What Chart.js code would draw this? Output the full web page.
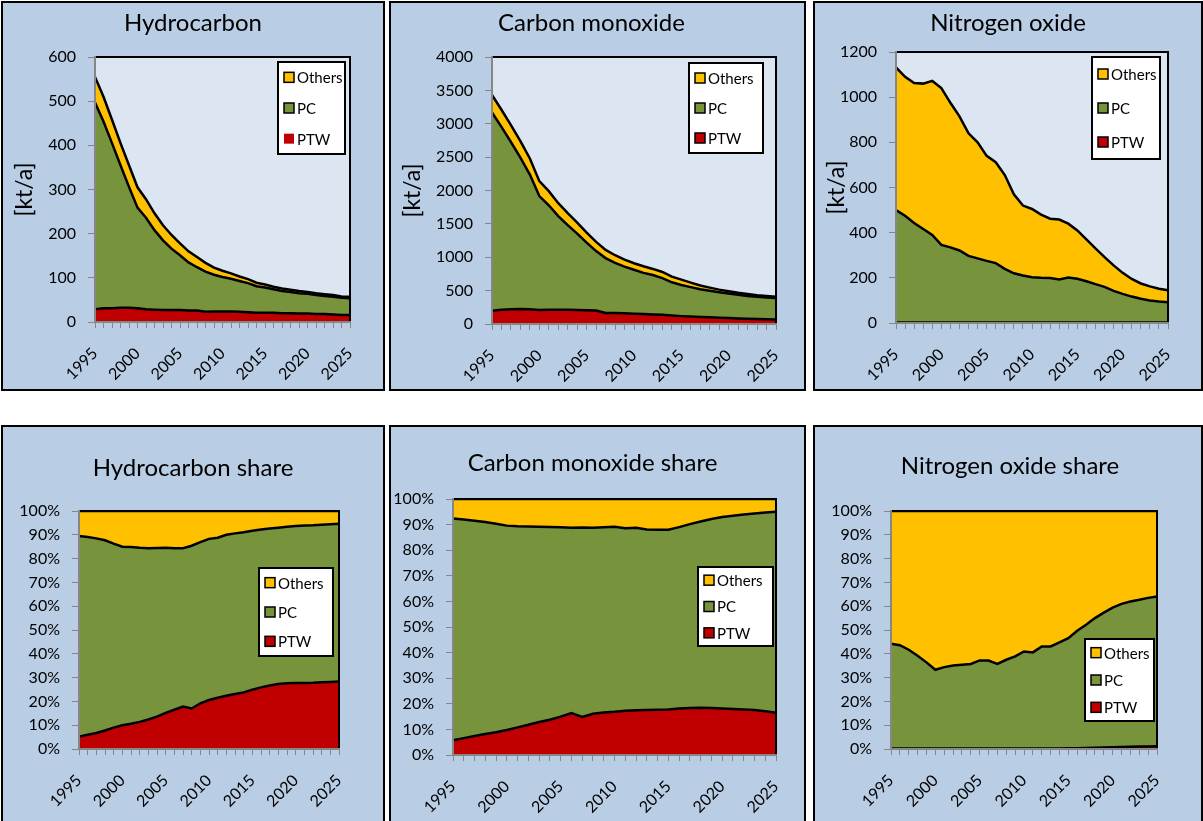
<!DOCTYPE html>
<html>
<head>
<meta charset="utf-8">
<title>Emissions by vehicle category</title>
<script src="https://cdn.jsdelivr.net/npm/chart.js@4.4.1/dist/chart.umd.min.js"></script>
<style>
  html, body { margin: 0; padding: 0; background: #fff; }
  body { width: 1203px; height: 821px; overflow: hidden; position: relative; font-family: Lato, "Open Sans", sans-serif; }
  .panel { position: absolute; box-sizing: border-box; border: 2px solid #000; background: #b9cde5; }
  .panel canvas { position: absolute; left: -2px; top: -2px; }
  .title { position: absolute; text-align: center; font-size: 24px; line-height: 24px; color: #000; white-space: nowrap; }
</style>
</head>
<body>
<script>
// years on the x axis
const years = [1995, 1996, 1997, 1998, 1999, 2000, 2001, 2002, 2003, 2004, 2005, 2006, 2007, 2008, 2009, 2010,
  2011, 2012, 2013, 2014, 2015, 2016, 2017, 2018, 2019, 2020, 2021, 2022, 2023, 2024, 2025];

// absolute emissions [kt/a]
const hcPtw = [29, 31, 31, 32, 32, 31, 29, 28, 27, 27, 27, 26, 26, 23, 24, 24, 24, 23, 22, 21, 21, 21, 20, 20, 19, 19, 18, 18, 17, 16, 16];
const hcPc = [468, 423, 374, 323, 274, 228, 207, 180, 158, 139, 124, 109, 98, 91, 83, 78, 74, 70, 66, 60, 57, 53, 50, 48, 46, 45, 43, 41, 40, 39, 38];
const hcOthers = [58, 56, 53, 50, 49, 46, 42, 38, 34, 31, 27, 25, 23, 20, 16, 14, 12, 10, 9, 8, 7, 6, 6, 5, 5, 4, 4, 4, 4, 3, 3];

const coPtw = [199, 212, 221, 225, 221, 210, 215, 214, 214, 210, 206, 202, 165, 166, 160, 154, 150, 144, 137, 126, 118, 113, 106, 101, 95, 89, 84, 80, 76, 72, 68];
const coPc = [2970, 2741, 2506, 2268, 2018, 1707, 1564, 1402, 1267, 1144, 1013, 890, 822, 749, 699, 658, 616, 589, 550, 499, 467, 439, 415, 396, 380, 367, 353, 341, 331, 326, 322];
const coOthers = [261, 257, 253, 247, 241, 223, 211, 194, 179, 166, 151, 138, 123, 115, 106, 98, 99, 92, 93, 85, 80, 68, 57, 48, 40, 34, 30, 27, 25, 22, 20];

const noxPtw = [2, 2, 2, 2, 2, 2, 2, 2, 2, 2, 2, 2, 2, 2, 2, 2, 2, 2, 2, 2, 2, 2, 2, 2, 2, 2, 2, 2, 2, 2, 2];
const noxPc = [498, 473, 441, 414, 388, 344, 333, 319, 295, 284, 273, 263, 238, 218, 208, 201, 198, 197, 191, 199, 194, 183, 170, 158, 140, 127, 115, 105, 98, 93, 90];
const noxOthers = [632, 615, 620, 644, 682, 694, 640, 594, 543, 514, 465, 447, 415, 350, 310, 302, 280, 263, 265, 239, 214, 185, 158, 132, 113, 93, 78, 68, 62, 57, 53];

// shares [%]
const hcSharePtw = [5.2, 6.0, 6.7, 7.8, 9.0, 10.0, 10.6, 11.4, 12.4, 13.6, 15.2, 16.5, 17.8, 17.0, 19.2, 20.6, 21.5, 22.4, 23.1, 23.8, 24.9, 25.9, 26.7, 27.3, 27.6, 27.7, 27.7, 27.8, 28.0, 28.2, 28.4];
const hcSharePc = [84.3, 83.1, 81.8, 79.9, 77.3, 75.0, 74.3, 73.2, 72.0, 70.9, 69.4, 67.9, 66.6, 68.4, 67.7, 67.7, 67.3, 67.6, 67.5, 67.3, 66.8, 66.3, 65.9, 65.7, 65.8, 66.0, 66.2, 66.2, 66.2, 66.2, 66.2];
const hcShareOthers = [10.5, 10.9, 11.5, 12.3, 13.7, 15.0, 15.1, 15.4, 15.6, 15.5, 15.4, 15.6, 15.6, 14.6, 13.1, 11.7, 11.2, 10.0, 9.4, 8.9, 8.3, 7.8, 7.4, 7.0, 6.6, 6.3, 6.1, 6.0, 5.8, 5.6, 5.4];

const coSharePtw = [5.8, 6.6, 7.4, 8.2, 8.9, 9.8, 10.8, 11.8, 12.9, 13.8, 15.0, 16.4, 14.9, 16.1, 16.6, 16.9, 17.3, 17.5, 17.6, 17.7, 17.8, 18.2, 18.4, 18.5, 18.4, 18.2, 18.0, 17.8, 17.6, 17.1, 16.5];
const coSharePc = [86.6, 85.4, 84.1, 82.8, 81.4, 79.8, 78.6, 77.5, 76.3, 75.3, 74.0, 72.4, 74.0, 72.7, 72.4, 72.3, 71.3, 71.3, 70.5, 70.3, 70.2, 70.8, 71.8, 72.7, 73.8, 74.8, 75.5, 76.1, 76.7, 77.6, 78.5];
const coShareOthers = [7.6, 8.0, 8.5, 9.0, 9.7, 10.4, 10.6, 10.7, 10.8, 10.9, 11.0, 11.2, 11.1, 11.2, 11.0, 10.8, 11.4, 11.2, 11.9, 12.0, 12.0, 11.0, 9.8, 8.8, 7.8, 7.0, 6.5, 6.1, 5.7, 5.3, 5.0];

const noxSharePtw = [0.2, 0.2, 0.2, 0.2, 0.2, 0.2, 0.2, 0.2, 0.2, 0.2, 0.2, 0.2, 0.2, 0.2, 0.2, 0.2, 0.2, 0.2, 0.2, 0.2, 0.3, 0.3, 0.4, 0.5, 0.6, 0.7, 0.8, 0.9, 1.0, 1.1, 1.2];
const noxSharePc = [44.0, 43.4, 41.5, 39.0, 36.2, 33.1, 34.2, 34.9, 35.2, 35.5, 37.0, 37.0, 35.6, 37.3, 38.7, 40.8, 40.4, 42.9, 42.9, 44.6, 46.3, 49.4, 51.8, 54.5, 56.7, 58.7, 60.2, 61.1, 61.7, 62.4, 62.9];
const noxShareOthers = [55.8, 56.4, 58.3, 60.8, 63.6, 66.7, 65.6, 64.9, 64.6, 64.3, 62.8, 62.8, 64.2, 62.5, 61.1, 59.0, 59.4, 56.9, 56.9, 55.2, 53.4, 50.3, 47.8, 45.0, 42.7, 40.6, 39.0, 38.0, 37.3, 36.5, 35.9];

const seriesNames = ['PTW', 'PC', 'Others'];

const FONT = 'Lato, "Open Sans", sans-serif';
const COLORS = ['#c00000', '#77933c', '#ffc000'];
const PLOT_BG = '#dce6f2';
const AXIS = '#868686';

// panel box [left, top, width, height] in page px, plot area [left, right, top, bottom] in canvas px
const panels = [
  { title: 'Hydrocarbon', box: [1, 1, 384, 390], area: [94, 349, 56, 321], titleTop: 10, titleShift: 0,
    data: [hcPtw, hcPc, hcOthers], max: 600, step: 100, unit: '[kt/a]',
    legend: { right: 5, top: 5, w: 67, h: 92, plainLast: true } },
  { title: 'Carbon monoxide', box: [389, 1, 417, 390], area: [103, 387, 56, 323], titleTop: 10, titleShift: -6,
    data: [coPtw, coPc, coOthers], max: 4000, step: 500, unit: '[kt/a]', legend: { right: 13, top: 6, w: 74, h: 90 } },
  { title: 'Nitrogen oxide', box: [813, 1, 390, 390], area: [83, 355, 51, 322], titleTop: 10, titleShift: 0,
    data: [noxPtw, noxPc, noxOthers], max: 1200, step: 200, unit: '[kt/a]', legend: { right: 8, top: 5, w: 68, h: 102 } },
  { title: 'Hydrocarbon share', box: [1, 425, 384, 400], area: [78, 338, 86, 324], titleTop: 455, titleShift: 0,
    data: [hcSharePtw, hcSharePc, hcShareOthers], max: 100, step: 10, pct: true, legend: { right: 6, top: 57, w: 74, h: 88 } },
  { title: 'Carbon monoxide share', box: [389, 425, 417, 400], area: [64, 387, 74, 330], titleTop: 450, titleShift: -5,
    data: [coSharePtw, coSharePc, coShareOthers], max: 100, step: 10, pct: true, legend: { right: 3, top: 68, w: 75, h: 79 } },
  { title: 'Nitrogen oxide share', box: [813, 425, 390, 400], area: [78, 344, 86, 324], titleTop: 453, titleShift: 2,
    data: [noxSharePtw, noxSharePc, noxShareOthers], max: 100, step: 10, pct: true, legend: { right: 3, top: 128, w: 69, h: 82 } },
];

// plot background, frame and the boxed legend inside the plot
const framePlugin = {
  id: 'frame',
  beforeDraw(chart) {
    const { ctx, chartArea: a } = chart;
    ctx.save();
    ctx.fillStyle = PLOT_BG;
    ctx.fillRect(a.left, a.top, a.width, a.height);
    ctx.restore();
  },
  afterDatasetsDraw(chart) {
    const { ctx, chartArea: a } = chart;
    ctx.save();
    ctx.strokeStyle = '#000';
    ctx.lineWidth = 2;
    ctx.strokeRect(a.left, a.top, a.width, a.height);
    ctx.restore();
  },
  afterDraw(chart, args, opts) {
    const { ctx, chartArea: a } = chart;
    const x = a.right - opts.right - opts.w;
    const y = a.top + opts.top;
    ctx.save();
    ctx.fillStyle = '#fff';
    ctx.fillRect(x, y, opts.w, opts.h);
    ctx.strokeStyle = '#000';
    ctx.lineWidth = 2;
    ctx.strokeRect(x, y, opts.w, opts.h);
    ctx.font = '15px ' + FONT;
    ctx.textBaseline = 'middle';
    ctx.textAlign = 'left';
    const items = chart.data.datasets.slice().reverse();
    items.forEach((ds, i) => {
      const cy = y + opts.h * (2 * i + 1) / 6;
      ctx.fillStyle = ds.backgroundColor;
      ctx.fillRect(x + 6, cy - 5, 10, 10);
      if (!(opts.plainLast && i === items.length - 1)) {
        ctx.lineWidth = 1.5;
        ctx.strokeRect(x + 6, cy - 5, 10, 10);
      }
      ctx.fillStyle = '#000';
      ctx.fillText(ds.label, x + 19, cy + 1);
    });
    ctx.restore();
  }
};

panels.forEach((p) => {
  const [bl, bt, bw, bh] = p.box;
  const [al, ar, at, ab] = p.area;
  const div = document.createElement('div');
  div.className = 'panel';
  div.style.cssText = `left:${bl}px;top:${bt}px;width:${bw}px;height:${bh}px;`;
  const canvas = document.createElement('canvas');
  canvas.width = bw;
  canvas.height = bh;
  canvas.style.width = bw + 'px';
  canvas.style.height = bh + 'px';
  div.appendChild(canvas);
  document.body.appendChild(div);

  const t = document.createElement('div');
  t.className = 'title';
  t.textContent = p.title;
  t.style.cssText = `left:${bl + p.titleShift}px;width:${bw}px;top:${p.titleTop}px;`;
  document.body.appendChild(t);

  const padLeft = 4;
  const xH = 62;

  new Chart(canvas, {
    type: 'line',
    data: {
      labels: years,
      datasets: p.data.map((vals, i) => ({
        label: seriesNames[i],
        data: vals,
        backgroundColor: COLORS[i],
        borderColor: '#000',
        borderWidth: 2.5,
        pointRadius: 0,
        tension: 0,
        fill: i === 0 ? 'origin' : '-1',
      })),
    },
    options: {
      responsive: false,
      animation: false,
      devicePixelRatio: 1,
      layout: { padding: { left: padLeft, right: bw - ar, top: at, bottom: bh - ab - xH } },
      plugins: {
        legend: { display: false },
        tooltip: { enabled: false },
        frame: p.legend,
      },
      scales: {
        x: {
          type: 'category',
          offset: false,
          grid: { drawOnChartArea: false, tickLength: 6, color: AXIS, lineWidth: 1 },
          border: { color: AXIS, width: 2, z: 1 },
          ticks: {
            autoSkip: false, maxRotation: 45, minRotation: 45, padding: 16, color: '#000',
            font: { family: FONT, size: 16 },
            callback(v) {
              const yr = this.getLabelForValue(v);
              return yr % 5 === 0 ? String(yr) : '';
            },
          },
          afterFit(s) { s.height = xH; },
        },
        y: {
          stacked: true,
          min: 0,
          max: p.max,
          grid: { drawOnChartArea: false, tickLength: 7, color: AXIS, lineWidth: 1 },
          border: { color: AXIS, width: 2, z: 1 },
          ticks: {
            stepSize: p.step, padding: 12, color: '#000',
            font: { family: FONT, size: 16 },
            callback: (v) => (p.pct ? v + '%' : v),
          },
          title: {
            display: !!p.unit, text: p.unit || '', color: '#000',
            font: { family: FONT, size: 23, lineHeight: 1.2 },
            padding: { top: 6, bottom: 0 },
          },
          afterFit(s) { s.width = al - padLeft; },
        },
      },
    },
    plugins: [framePlugin],
  });
});
</script>
</body>
</html>
